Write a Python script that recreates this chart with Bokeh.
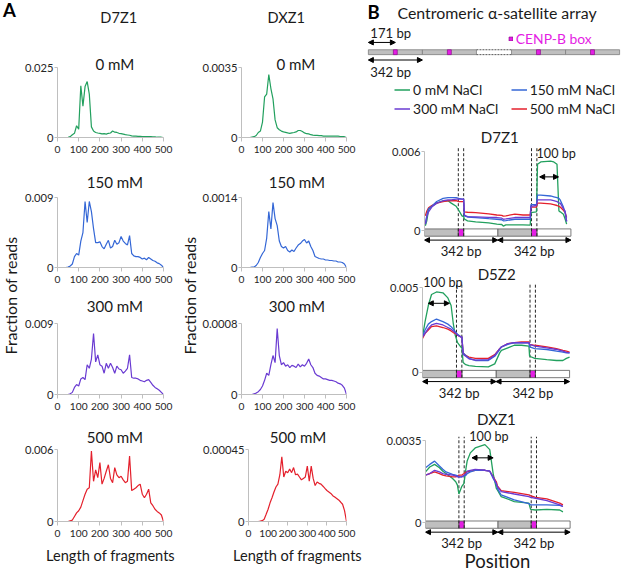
import math
from bokeh.plotting import figure
from bokeh.models import Range1d, FixedTicker, Label, Arrow, NormalHead, Legend, LegendItem
from bokeh.layouts import row, column
from bokeh.embed import file_html
from bokeh.resources import INLINE

# ---------------- data: panel A (fragment length distributions) ----------------
frag_len = [20, 30, 40, 50, 60, 70, 80, 90, 100, 110,
            120, 130, 140, 150, 160, 170, 180, 190, 200, 210,
            220, 230, 240, 250, 260, 270, 280, 290, 300, 310,
            320, 330, 340, 350, 360, 370, 380, 390, 400, 410,
            420, 430, 440, 450, 460, 470, 480, 490, 500]
len_ticks = [0, 100, 200, 300, 400, 500]
salt_titles = ["0 mM", "150 mM", "300 mM", "500 mM"]
nacl_labels = ["0 mM NaCl", "150 mM NaCl", "300 mM NaCl", "500 mM NaCl"]

d7z1_0 = [0, 0, 0, 0.0001, 0.0003, 0.001, 0.0015, 0.0042, 0.003, 0.0185,
          0.0112, 0.0182, 0.02, 0.0155, 0.0038, 0.0023, 0.0018, 0.0016, 0.0015, 0.0013,
          0.0014, 0.0012, 0.0015, 0.0016, 0.0023, 0.0019, 0.0018, 0.0015, 0.0014, 0.0012,
          0.001, 0.0009, 0.0008, 0.0006, 0.0005, 0.0005, 0.0004, 0.0004, 0.0003, 0.0003,
          0.0003, 0.0003, 0.0003, 0.0002, 0.0002, 0.0001, 0.0001, 0.0001, 0]
d7z1_150 = [0, 0, 0, 0.00005, 0.0002, 0.00045, 0.0014, 0.0018, 0.0016, 0.0034,
            0.0045, 0.0085, 0.0058, 0.0085, 0.0072, 0.005, 0.0032, 0.0032, 0.0033, 0.0027,
            0.0024, 0.003, 0.0035, 0.0025, 0.0027, 0.0035, 0.003, 0.0032, 0.004, 0.0034,
            0.0031, 0.0029, 0.0041, 0.0018, 0.0015, 0.0014, 0.0014, 0.0013, 0.0011, 0.0012,
            0.001, 0.0013, 0.0011, 0.0009, 0.0008, 0.0006, 0.0005, 0.0003, 0]
d7z1_300 = [0, 0, 0, 0, 0.00009, 0.00027, 0.0009, 0.00126, 0.00108, 0.00198,
            0.00216, 0.00189, 0.00378, 0.00333, 0.0045, 0.00774, 0.00414, 0.00504, 0.00378, 0.0036,
            0.0027, 0.00396, 0.00333, 0.00396, 0.00342, 0.0027, 0.0036, 0.00324, 0.00315, 0.0027,
            0.00297, 0.00333, 0.00504, 0.00216, 0.00207, 0.00207, 0.00198, 0.0018, 0.00171, 0.00162,
            0.0018, 0.00189, 0.00153, 0.00117, 0.0009, 0.00072, 0.00054, 0.00027, 0]
d7z1_500 = [0, 0, 0, 0, 0.00006, 0.00012, 0.00042, 0.00072, 0.0009, 0.0012,
            0.00174, 0.00228, 0.0027, 0.00282, 0.00588, 0.00336, 0.00432, 0.00366, 0.00492, 0.00312,
            0.0036, 0.0042, 0.00474, 0.0036, 0.00324, 0.0045, 0.0039, 0.00366, 0.00378, 0.00348,
            0.00324, 0.00336, 0.00546, 0.00258, 0.0027, 0.00282, 0.003, 0.00312, 0.00228, 0.00198,
            0.00228, 0.0027, 0.00156, 0.00132, 0.00102, 0.00084, 0.00072, 0.00054, 0]
dxz1_0 = [0, 0, 0, 0.00002, 0.00004, 0.0001, 0.00025, 0.00032, 0.00077, 0.00203,
          0.00217, 0.00315, 0.00245, 0.00193, 0.00088, 0.00049, 0.00039, 0.00032, 0.00028, 0.00026,
          0.00023, 0.00021, 0.00023, 0.00025, 0.00028, 0.00035, 0.00035, 0.0003, 0.00023, 0.00019,
          0.00018, 0.00014, 0.00012, 0.00011, 0.00011, 0.00009, 0.00009, 0.00007, 0.00007, 0.00007,
          0.00007, 0.00007, 0.00007, 0.00007, 0.00007, 0.00005, 0.00004, 0.00004, 0]
dxz1_150 = [0, 0, 0, 0.00001, 0.00001, 0.00004, 0.0001, 0.0002, 0.00028, 0.00034,
            0.00059, 0.00112, 0.00077, 0.0013, 0.00098, 0.00084, 0.00053, 0.00042, 0.00039, 0.00042,
            0.00034, 0.00031, 0.00035, 0.00032, 0.00039, 0.00045, 0.00048, 0.00053, 0.00056, 0.00049,
            0.00053, 0.00042, 0.00034, 0.00022, 0.0002, 0.00018, 0.00017, 0.00017, 0.00015, 0.00015,
            0.00014, 0.00014, 0.00013, 0.00013, 0.00011, 0.00011, 0.0001, 0.00007, 0]
dxz1_300 = [0, 0, 0, 0, 0.000008, 0.000016, 0.000032, 0.000056, 0.000096, 0.00016,
            0.00024, 0.000216, 0.000336, 0.00044, 0.00036, 0.000744, 0.00044, 0.000336, 0.00036, 0.00032,
            0.000336, 0.000304, 0.000328, 0.00032, 0.000304, 0.000344, 0.000312, 0.000336, 0.00032, 0.000352,
            0.0004, 0.000336, 0.000304, 0.00024, 0.000216, 0.000208, 0.000192, 0.000176, 0.000176, 0.000168,
            0.00016, 0.00016, 0.000152, 0.000144, 0.000128, 0.00012, 0.000104, 0.000072, 0]
dxz1_500 = [0, 0, 0, 0, 0.000002, 0.000005, 0.000014, 0.000045, 0.000077, 0.000117,
            0.000149, 0.000185, 0.000216, 0.000234, 0.000293, 0.000405, 0.000279, 0.000315, 0.000306, 0.000329,
            0.000306, 0.000338, 0.000293, 0.000297, 0.000279, 0.000261, 0.00027, 0.000279, 0.000347, 0.000252,
            0.000347, 0.00027, 0.000225, 0.000248, 0.000239, 0.000234, 0.000221, 0.000207, 0.000194, 0.000185,
            0.000176, 0.000162, 0.000153, 0.000144, 0.000135, 0.000122, 0.000108, 0.000068, 0]
d7z1_axis_max = [0.025, 0.009, 0.009, 0.006]
dxz1_axis_max = [0.0035, 0.0014, 0.0008, 0.00045]

# ---------------- data: panel B (position profiles over two 342-bp dimers) ----------------
monomer_bp = 171
dimer_bp = 342
dimer_starts = [0, 342]
cenpb_box = [158, 183]
array_dimer_starts = [0, 342, 906, 1248]
array_gap = [684, 906]

pos_d7z1 = [4, 11, 19, 34, 57, 87, 110, 125, 148, 160, 175, 183, 186, 201, 239, 300, 338, 361, 368, 380,
            422, 460, 494, 497, 523, 528, 543, 589, 604, 619, 628, 634, 649, 657, 664]
d7z1_b_0 = [0.39e-3, 0.78e-3, 1.62e-3, 1.86e-3, 2.1e-3, 2.28e-3, 2.28e-3, 2.1e-3, 1.86e-3, 1.56e-3,
            1.14e-3, 1.08e-3, 0.9e-3, 0.76e-3, 0.68e-3, 0.6e-3, 0.51e-3, 0.48e-3, 0.36e-3, 0.45e-3,
            0.46e-3, 0.45e-3, 0.44e-3, 1.38e-3, 1.44e-3, 5.04e-3, 5.22e-3, 5.28e-3, 5.22e-3, 5.04e-3,
            1.5e-3, 1.44e-3, 1.26e-3, 0.9e-3, 0.51e-3]
d7z1_b_150 = [0.51e-3, 1.2e-3, 1.68e-3, 1.86e-3, 2.22e-3, 2.46e-3, 2.52e-3, 2.52e-3, 2.52e-3, 2.46e-3,
              2.4e-3, 2.4e-3, 1.14e-3, 1.05e-3, 1.0e-3, 0.92e-3, 0.88e-3, 0.84e-3, 0.76e-3, 0.78e-3,
              0.88e-3, 0.88e-3, 0.88e-3, 1.98e-3, 1.98e-3, 2.7e-3, 2.7e-3, 2.64e-3, 2.58e-3, 2.52e-3,
              2.46e-3, 2.34e-3, 1.8e-3, 1.38e-3, 0.72e-3]
d7z1_b_300 = [0.51e-3, 1.08e-3, 1.44e-3, 1.8e-3, 2.1e-3, 2.28e-3, 2.34e-3, 2.34e-3, 2.4e-3, 2.4e-3,
              2.4e-3, 2.4e-3, 1.2e-3, 1.08e-3, 1.06e-3, 1.02e-3, 1.01e-3, 0.96e-3, 0.88e-3, 0.9e-3,
              1.01e-3, 1.01e-3, 1.01e-3, 1.86e-3, 1.92e-3, 2.34e-3, 2.34e-3, 2.34e-3, 2.28e-3, 2.22e-3,
              2.1e-3, 2.1e-3, 1.68e-3, 1.5e-3, 0.72e-3]
d7z1_b_500 = [1.14e-3, 1.5e-3, 1.74e-3, 1.92e-3, 2.1e-3, 2.22e-3, 2.28e-3, 2.28e-3, 2.28e-3, 2.22e-3,
              2.22e-3, 2.22e-3, 1.44e-3, 1.41e-3, 1.38e-3, 1.29e-3, 1.2e-3, 1.17e-3, 1.11e-3, 1.14e-3,
              1.26e-3, 1.2e-3, 1.2e-3, 1.8e-3, 1.8e-3, 2.1e-3, 2.1e-3, 2.04e-3, 1.98e-3, 1.92e-3,
              1.86e-3, 1.8e-3, 1.56e-3, 1.38e-3, 1.02e-3]

pos_d5z2 = [0, 12, 27, 42, 65, 95, 118, 133, 143, 152, 163, 178, 183, 189, 201, 216, 246, 306, 336, 359,
            367, 397, 427, 460, 495, 498, 522, 578, 623, 653, 669, 684]
d5z2_b_0 = [2.1e-3, 3.0e-3, 3.95e-3, 4.6e-3, 4.75e-3, 4.7e-3, 4.4e-3, 3.95e-3, 2.9e-3, 2.2e-3,
            1.75e-3, 1.5e-3, 1.45e-3, 0.575e-3, 0.45e-3, 0.4e-3, 0.35e-3, 0.325e-3, 0.5e-3, 1.15e-3,
            1.3e-3, 1.45e-3, 1.6e-3, 1.6e-3, 1.55e-3, 0.95e-3, 0.825e-3, 0.75e-3, 0.7e-3, 0.7e-3,
            0.825e-3, 0.9e-3]
d5z2_b_150 = [2.1e-3, 2.5e-3, 2.85e-3, 3.0e-3, 3.15e-3, 3.0e-3, 2.85e-3, 2.7e-3, 2.55e-3, 2.4e-3,
              2.25e-3, 2.1e-3, 2.1e-3, 1.15e-3, 1.0e-3, 0.825e-3, 0.7e-3, 0.7e-3, 0.95e-3, 1.35e-3,
              1.5e-3, 1.65e-3, 1.75e-3, 1.75e-3, 1.75e-3, 1.5e-3, 1.4e-3, 1.35e-3, 1.25e-3, 1.2e-3,
              1.15e-3, 1.15e-3]
d5z2_b_300 = [2.1e-3, 2.3e-3, 2.6e-3, 2.8e-3, 2.9e-3, 2.8e-3, 2.65e-3, 2.55e-3, 2.45e-3, 2.35e-3,
              2.2e-3, 2.1e-3, 2.1e-3, 1.05e-3, 0.95e-3, 0.8e-3, 0.725e-3, 0.75e-3, 1.0e-3, 1.4e-3,
              1.5e-3, 1.7e-3, 1.75e-3, 1.75e-3, 1.75e-3, 1.65e-3, 1.55e-3, 1.45e-3, 1.35e-3, 1.25e-3,
              1.175e-3, 1.15e-3]
d5z2_b_500 = [2.0e-3, 2.3e-3, 2.5e-3, 2.7e-3, 2.75e-3, 2.65e-3, 2.55e-3, 2.45e-3, 2.35e-3, 2.3e-3,
              2.2e-3, 2.1e-3, 2.1e-3, 1.15e-3, 1.0e-3, 0.9e-3, 0.825e-3, 0.825e-3, 1.05e-3, 1.4e-3,
              1.5e-3, 1.7e-3, 1.75e-3, 1.8e-3, 1.8e-3, 1.65e-3, 1.6e-3, 1.5e-3, 1.4e-3, 1.3e-3,
              1.25e-3, 1.2e-3]

pos_dxz1 = [0, 20, 43, 66, 82, 97, 128, 143, 151, 158, 171, 182, 192, 197, 212, 235, 281, 304, 320, 335,
            340, 358, 420, 489, 497, 520, 574, 635, 650]
dxz1_b_0 = [2.17e-3, 2.38e-3, 2.49e-3, 2.35e-3, 2.2e-3, 2.1e-3, 1.89e-3, 1.75e-3, 1.61e-3, 1.23e-3,
            1.54e-3, 1.68e-3, 2.35e-3, 2.63e-3, 2.98e-3, 3.19e-3, 3.33e-3, 3.12e-3, 2.1e-3, 1.47e-3,
            1.4e-3, 1.12e-3, 0.91e-3, 0.84e-3, 0.58e-3, 0.55e-3, 0.58e-3, 0.55e-3, 0.47e-3]
dxz1_b_150 = [2.35e-3, 2.49e-3, 2.63e-3, 2.42e-3, 2.28e-3, 2.17e-3, 2.07e-3, 2.03e-3, 2.0e-3, 1.96e-3,
              1.96e-3, 2.0e-3, 2.03e-3, 2.1e-3, 2.17e-3, 2.24e-3, 2.24e-3, 2.2e-3, 1.89e-3, 1.65e-3,
              1.47e-3, 1.19e-3, 0.98e-3, 0.82e-3, 0.77e-3, 0.77e-3, 0.77e-3, 0.75e-3, 0.7e-3]
dxz1_b_300 = [2.03e-3, 2.1e-3, 2.24e-3, 2.17e-3, 2.1e-3, 2.07e-3, 2.03e-3, 2.0e-3, 1.96e-3, 1.96e-3,
              1.96e-3, 2.03e-3, 2.1e-3, 2.2e-3, 2.24e-3, 2.28e-3, 2.24e-3, 2.2e-3, 1.96e-3, 1.68e-3,
              1.54e-3, 1.33e-3, 1.23e-3, 1.12e-3, 1.09e-3, 1.05e-3, 0.95e-3, 0.77e-3, 0.7e-3]
dxz1_b_500 = [2.03e-3, 2.1e-3, 2.17e-3, 2.1e-3, 2.03e-3, 2.0e-3, 1.96e-3, 1.96e-3, 2.0e-3, 2.03e-3,
              2.03e-3, 2.1e-3, 2.17e-3, 2.17e-3, 2.2e-3, 2.24e-3, 2.24e-3, 2.2e-3, 1.96e-3, 1.75e-3,
              1.58e-3, 1.37e-3, 1.3e-3, 1.19e-3, 1.16e-3, 1.09e-3, 1.02e-3, 0.84e-3, 0.77e-3]
b_names = ["D7Z1", "D5Z2", "DXZ1"]
b_axis_max = [0.006, 0.005, 0.0035]
hundred_start = [538, 27, 220]
hundred_end = [626, 125, 320]

# ---------------- style ----------------
S = 0.972
FONT = "Lato"
AXIS_C = "#bfbfbf"
TXT_C = "#1a1a1a"
COLORS = ["#22a05e", "#3467d6", "#6a3bd2", "#e4202c"]
MAGENTA = "#e41ee4"
YLAB_SIZE = 16.5


def s(v):
    return int(round(v * S))


def fs(v):
    return f"{v * S:.1f}px"


def fig(**kw):
    return figure(toolbar_location=None, output_backend="svg", outline_line_color=None,
                  frame_align=False, **kw)


def add_label(p, text, x, y, size, xu="screen", yu="screen", align="center", bold=False, angle=0.0, color=TXT_C):
    p.add_layout(Label(x=x, y=y, x_units=xu, y_units=yu, text=text, text_font=FONT,
                       text_font_size=fs(size), text_align=align, text_baseline="middle",
                       text_color=color, text_font_style="bold" if bold else "normal", angle=angle))


def style_axis(ax, tick_out, standoff, size):
    ax.axis_line_color = AXIS_C
    ax.axis_line_width = 1
    ax.major_tick_line_color = AXIS_C
    ax.minor_tick_line_color = None
    ax.major_tick_in = 0
    ax.major_tick_out = tick_out
    ax.major_label_standoff = standoff
    ax.major_label_text_font = FONT
    ax.major_label_text_font_size = fs(size)
    ax.major_label_text_color = "#262626"


def y_ticks(p, ymax):
    p.yaxis.ticker = FixedTicker(ticks=[0, ymax])
    p.yaxis.bounds = (0, ymax)
    p.yaxis.major_label_overrides = {0: "0", ymax: f"{ymax:g}"}


# ---------------- panel A ----------------
A_ROWS = [  # fig_top, fig_bot, top_y, zero_y, title_y (reference pixels)
    (0, 172, 69, 141, 65),
    (172, 303, 203, 275, 187),
    (303, 435, 333, 406, 315),
    (435, 587, 463, 537, 450),
]
COLS = [
    dict(x0=22, x1=185, frame_l=[56, 56, 56, 56], frame_r=169, title_x=115, head_x=119,
         name="D7Z1", series=[d7z1_0, d7z1_150, d7z1_300, d7z1_500], ymax=d7z1_axis_max),
    dict(x0=206, x1=375, frame_l=[246, 245, 245, 251], frame_r=358, title_x=302, head_x=292,
         name="DXZ1", series=[dxz1_0, dxz1_150, dxz1_300, dxz1_500], ymax=dxz1_axis_max),
]


def make_a(col, r):
    fig_top, fig_bot, top_y, zero_y, title_y = A_ROWS[r]
    fl = col["frame_l"][r]
    fr = col["frame_r"]
    x0, x1 = col["x0"], col["x1"]
    ymax = col["ymax"][r]
    yend = ymax * (zero_y - fig_top) / (zero_y - top_y)
    p = fig(width=s(x1 - x0), height=s(fig_bot - fig_top),
            x_range=Range1d(0, 500), y_range=Range1d(0, yend),
            min_border_left=s(fl - x0), min_border_right=s(x1 - fr),
            min_border_top=0, min_border_bottom=s(fig_bot - zero_y))
    p.grid.visible = False
    p.line(frag_len, col["series"][r], line_color=COLORS[r], line_width=1.2)
    style_axis(p.xaxis[0], 4, 4, 10.5)
    style_axis(p.yaxis[0], 3, 1, 11.5)
    p.xaxis.ticker = FixedTicker(ticks=len_ticks)
    y_ticks(p, ymax)
    add_label(p, salt_titles[r], S * (col["title_x"] - fl), S * (zero_y - title_y), 15.5)
    if r == 0:
        add_label(p, col["name"], S * (col["head_x"] - fl), S * (zero_y - 18), 15)
    if r == 3:
        p.xaxis.axis_label = "Length of fragments"
        p.xaxis.axis_label_text_font = FONT
        p.xaxis.axis_label_text_font_size = fs(15)
        p.xaxis.axis_label_text_font_style = "normal"
        p.xaxis.axis_label_text_color = TXT_C
        p.xaxis.axis_label_standoff = s(7)
    return p


def make_ylab(x0, width, cx, cy, letter=None):
    p = fig(width=s(width), height=s(587), x_range=Range1d(0, 1), y_range=Range1d(0, 1),
            x_axis_type=None, y_axis_type=None, min_border=0)
    add_label(p, "Fraction of reads", S * (cx - x0), S * (587 - cy), YLAB_SIZE, angle=math.pi / 2)
    if letter:
        add_label(p, letter, S * 2.5, S * (587 - 9), 19, align="left", bold=True, color="#000000")
    return p


colA1 = column(*[make_a(COLS[0], r) for r in range(4)])
colA2 = column(*[make_a(COLS[1], r) for r in range(4)])
ylabA1 = make_ylab(0, 22, 10.5, 303, letter="A")
ylabA2 = make_ylab(185, 21, 195.5, 303)

# ---------------- panel B header (schematic + legend) ----------------
hb = fig(width=s(265), height=s(122), x_range=Range1d(-30.8, 1602), y_range=Range1d(122, 0),
         x_axis_type=None, y_axis_type=None, min_border=0)
hb.quad(left=array_dimer_starts, right=[d + dimer_bp for d in array_dimer_starts],
        top=50.5, bottom=55.5, fill_color="#bfbfbf", line_color="#7f7f7f", line_width=0.8)
box_r = hb.quad(left=[d + cenpb_box[0] for d in array_dimer_starts],
                right=[d + cenpb_box[1] for d in array_dimer_starts],
                top=50.5, bottom=55.5, fill_color=MAGENTA, line_color="#7f007f", line_width=0.6)
hb.segment(x0=[array_gap[0]] * 2, x1=[array_gap[1]] * 2, y0=[50.5, 55.5], y1=[50.5, 55.5],
           line_color="#555555", line_dash="2 1", line_width=1)


def darrow(p, x0, x1, y, size=5.5):
    p.add_layout(Arrow(x_start=x0, x_end=x1, y_start=y, y_end=y, line_color="black", line_width=1,
                       start=NormalHead(size=s(size), fill_color="black", line_color="black"),
                       end=NormalHead(size=s(size), fill_color="black", line_color="black")))


darrow(hb, 0, monomer_bp, 43)
darrow(hb, 0, dimer_bp, 61)
add_label(hb, "171 bp", S * 7, 33, 13.5, yu="data", align="left")
add_label(hb, "342 bp", S * 7, 73, 13.5, yu="data", align="left")
add_label(hb, "B", S * 4, 12, 19, yu="data", align="left", bold=True, color="#000000")
add_label(hb, "Centromeric \u03b1-satellite array", S * 35, 12, 16.4, yu="data", align="left")

# line renderers that only carry the legend swatches of the four salt series
leg_r = [hb.line(x=[float("nan")], y=[float("nan")], line_color=c, line_width=1.5) for c in COLORS]


def mk_legend(items, loc, gw, gh, color=TXT_C):
    lg = Legend(items=items, location=loc, orientation="vertical", glyph_width=s(gw), glyph_height=s(gh),
                label_standoff=s(3), label_height=s(15), spacing=s(2), padding=0, margin=0,
                border_line_color=None, background_fill_alpha=0,
                label_text_font=FONT, label_text_font_size=fs(14.3), label_text_color=color)
    hb.add_layout(lg)


mk_legend([LegendItem(label=nacl_labels[0], renderers=[leg_r[0]]),
           LegendItem(label=nacl_labels[2], renderers=[leg_r[2]])], (S * 32, S * 2.5), 16, 15)
mk_legend([LegendItem(label=nacl_labels[1], renderers=[leg_r[1]]),
           LegendItem(label=nacl_labels[3], renderers=[leg_r[3]])], (S * 152, S * 2.5), 16, 15)
mk_legend([LegendItem(label="CENP-B box", renderers=[box_r])], (S * 149, S * 74), 5, 5, color=MAGENTA)

# ---------------- panel B profiles ----------------
B_PLOTS = [
    dict(fig_top=122, fig_bot=268, frame_l=437.5, bar_end=588, top_y=155, zero_y=236.5,
         title_x=515, title_y=140, h_y=181, h_text_x=615, h_text_y=157,
         pos=pos_d7z1, series=[d7z1_b_0, d7z1_b_150, d7z1_b_300, d7z1_b_500]),
    dict(fig_top=268, fig_bot=412, frame_l=435.7, bar_end=586.7, top_y=295, zero_y=382,
         title_x=512, title_y=281, h_y=311, h_text_x=95, h_text_y=290,
         pos=pos_d5z2, series=[d5z2_b_0, d5z2_b_150, d5z2_b_300, d5z2_b_500]),
    dict(fig_top=412, fig_bot=587, frame_l=439, bar_end=587.3, top_y=452.3, zero_y=537,
         title_x=512, title_y=430, h_y=470, h_text_x=300, h_text_y=448,
         pos=pos_dxz1, series=[dxz1_b_0, dxz1_b_150, dxz1_b_300, dxz1_b_500]),
]


def make_b(i):
    c = B_PLOTS[i]
    ymax = b_axis_max[i]
    k = ymax / (c["zero_y"] - c["top_y"])
    fl = c["frame_l"]
    x_end = 2 * dimer_bp * (640 - fl) / (c["bar_end"] - fl)
    p = fig(width=s(265), height=s(c["fig_bot"] - c["fig_top"]),
            x_range=Range1d(0, x_end),
            y_range=Range1d(-(c["fig_bot"] - c["zero_y"]) * k, (c["zero_y"] - c["fig_top"]) * k),
            x_axis_type=None, min_border_left=s(fl - 375), min_border_right=0,
            min_border_top=0, min_border_bottom=0)
    p.grid.visible = False
    style_axis(p.yaxis[0], 3, 1, 11.5)
    y_ticks(p, ymax)
    # schematic bar of the two dimers
    p.quad(left=dimer_starts, right=[d + cenpb_box[0] for d in dimer_starts], top=2 * k, bottom=-5.5 * k,
           fill_color="#bfbfbf", line_color="#595959", line_width=0.8)
    p.quad(left=[d + cenpb_box[1] for d in dimer_starts], right=[d + dimer_bp for d in dimer_starts],
           top=2 * k, bottom=-5.5 * k, fill_color="white", line_color="#595959", line_width=0.8)
    p.quad(left=[d + cenpb_box[0] for d in dimer_starts], right=[d + cenpb_box[1] for d in dimer_starts],
           top=2 * k, bottom=-5.5 * k, fill_color=MAGENTA, line_color="#595959", line_width=0.8)
    xs = [d + b for d in dimer_starts for b in cenpb_box]
    p.segment(x0=xs, x1=xs, y0=[-5.5 * k] * len(xs), y1=[ymax + 4 * k] * len(xs),
              line_color="#262626", line_dash="3 2", line_width=1)
    for j in (0, 3, 1, 2):
        p.line(c["pos"], c["series"][j], line_color=COLORS[j], line_width=1.3)
    for d in dimer_starts:
        darrow(p, d, d + dimer_bp, -9.5 * k)
        add_label(p, f"{dimer_bp} bp", d + dimer_bp / 2, -21 * k, 13.5, xu="data", yu="data")
    darrow(p, hundred_start[i], hundred_end[i], (c["zero_y"] - c["h_y"]) * k, size=5)
    add_label(p, "100 bp", c["h_text_x"], (c["zero_y"] - c["h_text_y"]) * k, 13, xu="data", yu="data")
    add_label(p, b_names[i], S * (c["title_x"] - fl), (c["zero_y"] - c["title_y"]) * k, 15.5, yu="data")
    if i == 1:
        add_label(p, "Fraction of reads", S * (398 - fl), (c["zero_y"] - 329) * k, YLAB_SIZE, yu="data",
                  angle=math.pi / 2)
    if i == 2:
        add_label(p, "Position", S * (513 - fl), (c["zero_y"] - 576) * k, 19, yu="data")
    return p


colB = column(hb, make_b(0), make_b(1), make_b(2))

layout = row(ylabA1, colA1, ylabA2, colA2, colB)
open("out.html", "w").write(file_html(layout, INLINE))
